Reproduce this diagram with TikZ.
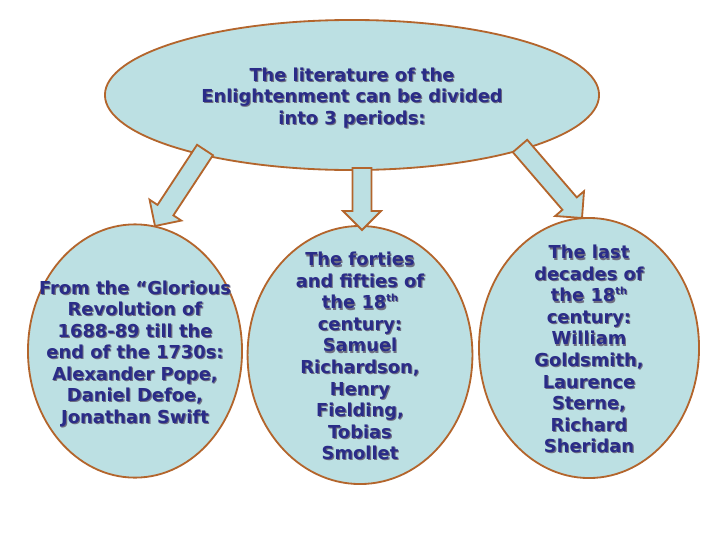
\documentclass[tikz,border=0pt]{standalone}
\usepackage{fontspec}
\setmainfont{DejaVu Sans}
\usetikzlibrary{shapes.geometric, calc}
\definecolor{paleteal}{HTML}{BCE0E3}
\definecolor{rust}{HTML}{B3652C}
\definecolor{navy}{HTML}{2A2C88}
\definecolor{shade}{HTML}{6E6E80}

% text with a small drop shadow
\newcommand{\shadowed}[1]{%
  \rlap{\kern0.8pt\raisebox{-0.8pt}{\color{shade}\begin{tabular}{@{}c@{}}#1\end{tabular}}}%
  \begin{tabular}{@{}c@{}}#1\end{tabular}}
\newcommand{\ordth}{\raisebox{0.75ex}{\fontsize{7}{8}\selectfont th}}

% block arrow from tail coordinate to tip coordinate
\newcommand{\blockarrow}[2]{%
  \coordinate (#1-b) at ($(#2)!4.75mm!(#1)$);
  \draw[rust, line width=1.3pt, fill=paleteal, line join=miter]
    ($(#1)!2.375mm!90:(#2)$) -- ($(#1-b)!2.375mm!90:(#2)$)
    -- ($(#1-b)!4.75mm!90:(#2)$) -- (#2)
    -- ($(#1-b)!4.75mm!-90:(#2)$) -- ($(#1-b)!2.375mm!-90:(#2)$)
    -- ($(#1)!2.375mm!-90:(#2)$) -- cycle;
}

\begin{document}
\begin{tikzpicture}[
  x=0.025cm, y=-0.025cm,
  bubble/.style={ellipse, draw=rust, fill=paleteal, line width=1.3pt, inner sep=0pt},
  caption/.style={inner sep=0pt, yshift=-1mm, text=navy,
    font=\fontsize{12.7}{15.3}\selectfont\bfseries},
]
\useasboundingbox (0,0) rectangle (720,540);

% the three periods
\node[bubble, minimum width=5.35cm, minimum height=6.33cm] (early) at (135,351) {};
\node[caption] (early-text) at (early)
  {\shadowed{From the “Glorious\\Revolution of\\1688-89 till the\\end of the 1730s:\\Alexander Pope,\\Daniel Defoe,\\Jonathan Swift}};
\node[bubble, minimum width=5.62cm, minimum height=6.45cm] (middle) at (360,355) {};
\node[caption] (middle-text) at (middle)
  {\shadowed{The forties\\and fifties of\\the 18\ordth\\century:\\Samuel\\Richardson,\\Henry\\Fielding,\\Tobias\\Smollet}};
\node[bubble, minimum width=5.5cm, minimum height=6.5cm] (late) at (589,348) {};
\node[caption] (late-text) at (late)
  {\shadowed{The last\\decades of\\the 18\ordth\\century:\\William\\Goldsmith,\\Laurence\\Sterne,\\Richard\\Sheridan}};

% heading
\node[bubble, minimum width=12.35cm, minimum height=3.75cm] (periods) at (352,95) {};
\node[caption] (periods-text) at (periods)
  {\shadowed{The literature of the\\Enlightenment can be divided\\into 3 periods:}};

% arrows
\coordinate (tailA) at (205,150);
\coordinate (tipA) at (155,226);
\coordinate (tailB) at (362,168);
\coordinate (tipB) at (362,230);
\coordinate (tailC) at (520,146);
\coordinate (tipC) at (582,218);
\blockarrow{tailA}{tipA}
\blockarrow{tailB}{tipB}
\blockarrow{tailC}{tipC}

\end{tikzpicture}
\end{document}
